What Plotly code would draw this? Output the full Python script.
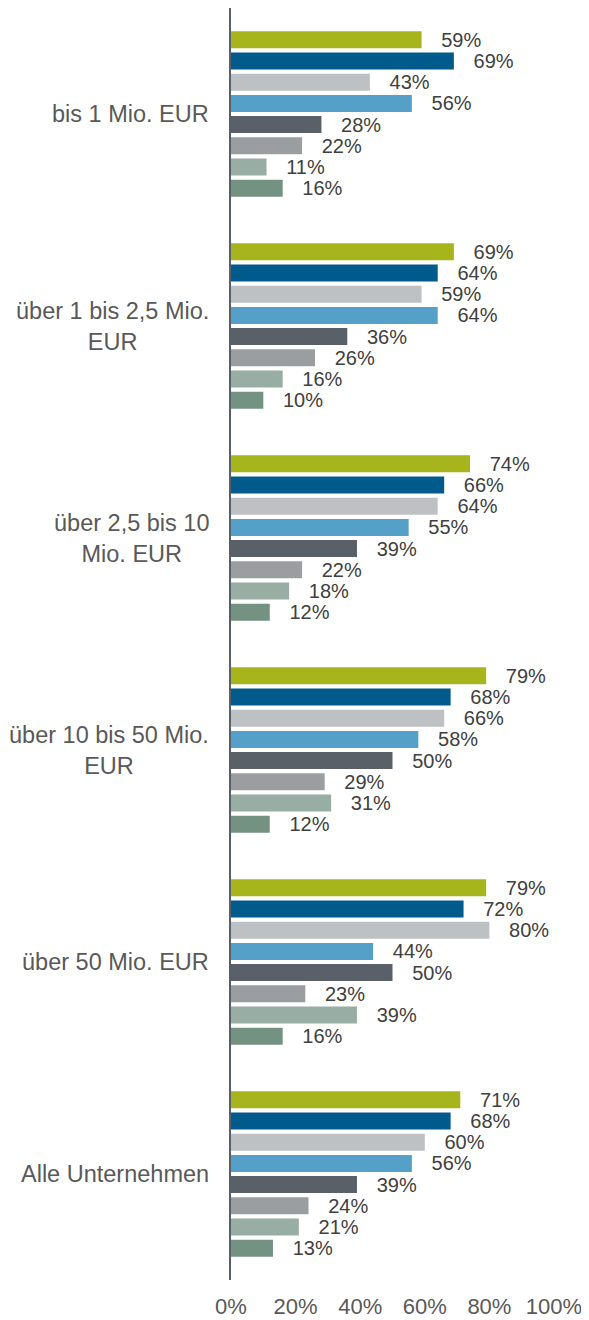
import plotly.graph_objects as go

categories = [
    "bis 1 Mio. EUR",
    "über 1 bis 2,5 Mio.<br>EUR",
    "über 2,5 bis 10<br>Mio. EUR",
    "über 10 bis 50 Mio.<br>EUR",
    "über 50 Mio. EUR",
    "Alle Unternehmen",
]

series_names = ["Reihe 1", "Reihe 2", "Reihe 3", "Reihe 4", "Reihe 5", "Reihe 6", "Reihe 7", "Reihe 8"]

s1 = [59, 69, 74, 79, 79, 71]
s2 = [69, 64, 66, 68, 72, 68]
s3 = [43, 59, 64, 66, 80, 60]
s4 = [56, 64, 55, 58, 44, 56]
s5 = [28, 36, 39, 50, 50, 39]
s6 = [22, 26, 22, 29, 23, 24]
s7 = [11, 16, 18, 31, 39, 21]
s8 = [16, 10, 12, 12, 16, 13]
series_values = [s1, s2, s3, s4, s5, s6, s7, s8]

colors = ["#A7B51C", "#005A8B", "#BEC1C4", "#54A0C9", "#596068", "#9B9EA1", "#98AEA4", "#749282"]

tick_values = [0, 20, 40, 60, 80, 100]
tick_labels = ["0%", "20%", "40%", "60%", "80%", "100%"]

FONT = "Liberation Sans, Arial, sans-serif"
PAD = "\u00a0\u00a0\u00a0"

fig = go.Figure()
for name, vals, col in zip(series_names, series_values, colors):
    fig.add_trace(go.Bar(
        x=vals,
        y=categories,
        name=name,
        orientation="h",
        marker=dict(color=col, line=dict(width=0)),
        text=[PAD + str(v) + "%" for v in vals],
        texttemplate="%{text}",
        textposition="outside",
        constraintext="none",
        cliponaxis=False,
        textfont=dict(family=FONT, size=20, color="#404040"),
        hoverinfo="x+y+name",
    ))

for cat in categories:
    fig.add_annotation(
        x=0, xref="paper", y=cat, yref="y",
        text=cat, showarrow=False,
        xanchor="right", yanchor="middle", align="center",
        xshift=-20,
        font=dict(family=FONT, size=23.5, color="#595959"),
    )

fig.update_layout(
    width=581, height=1312,
    margin=dict(l=223, r=35, t=0, b=40),
    barmode="group",
    bargap=0.2,
    bargroupgap=0.2,
    showlegend=False,
    plot_bgcolor="white",
    paper_bgcolor="white",
    font=dict(family=FONT),
)
fig.update_xaxes(
    range=[0, 100],
    tickvals=tick_values, ticktext=tick_labels,
    showgrid=False, zeroline=False, showline=False,
    ticklabelstandoff=11,
    tickfont=dict(family=FONT, size=22, color="#595959"),
)
fig.update_yaxes(
    type="category",
    autorange="reversed",
    showticklabels=False,
    showgrid=False, zeroline=False,
    showline=True, linecolor="#595F66", linewidth=2,
)

fig.write_html("out.html")
